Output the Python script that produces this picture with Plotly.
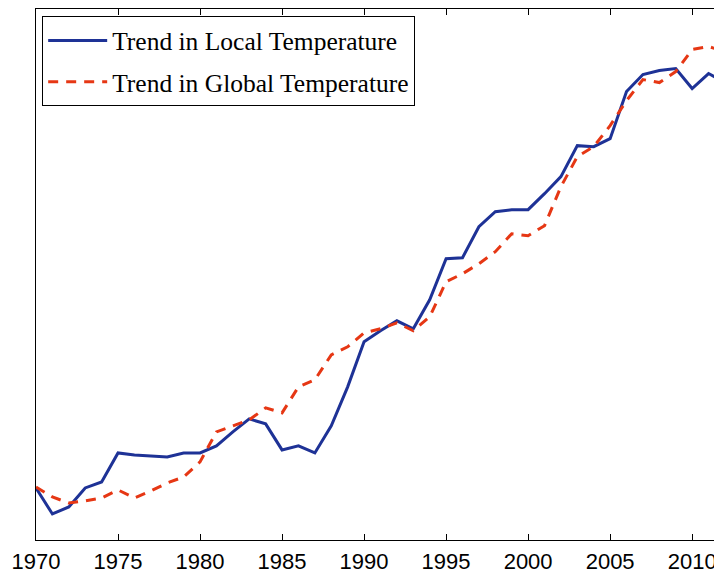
import plotly.graph_objects as go

years = list(range(1970, 2013))

local_trend = [0.52, 0.26, 0.33, 0.52, 0.58, 0.87, 0.85, 0.84, 0.83, 0.87,
               0.87, 0.94, 1.08, 1.21, 1.16, 0.90, 0.94, 0.87, 1.14, 1.53,
               1.98, 2.09, 2.19, 2.11, 2.40, 2.81, 2.82, 3.13, 3.28, 3.30,
               3.30, 3.46, 3.63, 3.94, 3.93, 4.01, 4.48, 4.65, 4.69, 4.71,
               4.51, 4.66, 4.57]

global_trend = [0.53, 0.43, 0.37, 0.39, 0.42, 0.50, 0.42, 0.49, 0.57, 0.63,
                0.78, 1.08, 1.14, 1.20, 1.32, 1.27, 1.53, 1.60, 1.85, 1.93,
                2.07, 2.11, 2.17, 2.09, 2.23, 2.58, 2.66, 2.76, 2.88, 3.06,
                3.04, 3.14, 3.53, 3.83, 3.93, 4.14, 4.39, 4.60, 4.57, 4.68,
                4.90, 4.93, 4.88]

tick_years = [1970, 1975, 1980, 1985, 1990, 1995, 2000, 2005, 2010]
tick_text = [str(y) for y in tick_years]

BLUE = "rgb(30,50,150)"
RED = "rgb(230,55,20)"

fig = go.Figure()
fig.add_trace(go.Scatter(x=years, y=local_trend, mode="lines",
                         name="Trend in Local Temperature", legendgroup="a",
                         line=dict(color=BLUE, width=3)))
fig.add_trace(go.Scatter(x=years, y=global_trend, mode="lines",
                         name="Trend in Global Temperature", legendgroup="b",
                         line=dict(color=RED, width=3, dash="10px,8px")))

# the page body adds an 8px margin, so the figure is sized/offset to compensate
fig.update_layout(
    width=714, height=565,
    margin=dict(l=28, r=0, t=1, b=33),
    paper_bgcolor="white", plot_bgcolor="white",
    showlegend=True,
    legend=dict(x=0.009, y=0.986, xanchor="left", yanchor="top",
                bgcolor="white", bordercolor="black", borderwidth=1,
                font=dict(family="Liberation Serif", size=25.5, color="black"),
                itemwidth=59, tracegroupgap=5),
    xaxis=dict(range=[1970, 2011.82], tickvals=tick_years, ticktext=tick_text,
               ticks="inside", ticklen=6, tickcolor="black", tickwidth=1,
               showline=True, linecolor="black", linewidth=1, mirror="ticks",
               showgrid=False, zeroline=False, automargin=False,
               ticklabelstandoff=2,
               tickfont=dict(family="Liberation Sans", size=22, color="black")),
    yaxis=dict(range=[0, 5.305], showticklabels=False, ticks="",
               showline=True, linecolor="black", linewidth=1,
               showgrid=False, zeroline=False, automargin=False),
)

fig.write_html("out.html")
